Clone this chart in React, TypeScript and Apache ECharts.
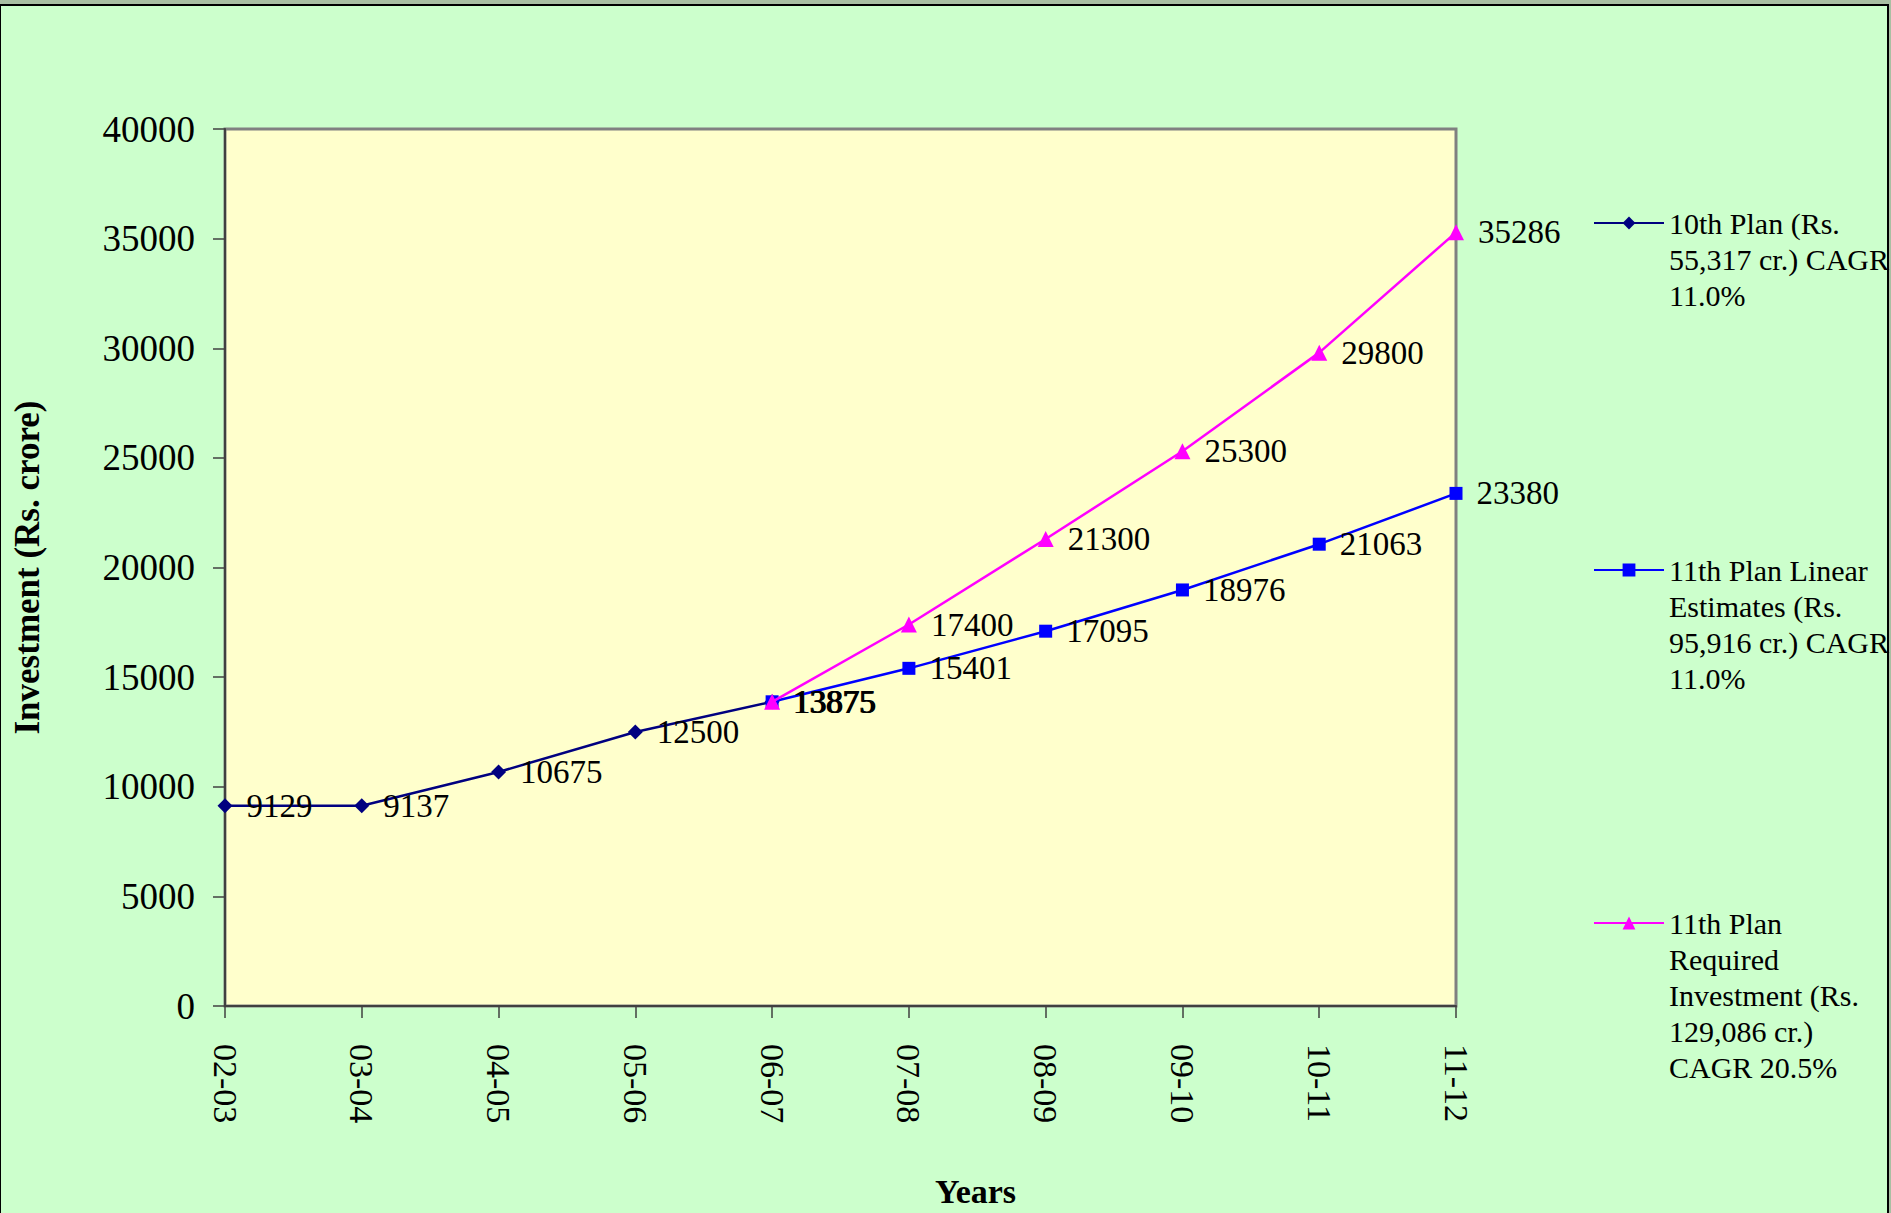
import React, { useEffect, useRef } from 'react';
import * as echarts from 'echarts';

const years = ['02-03', '03-04', '04-05', '05-06', '06-07', '07-08', '08-09', '09-10', '10-11', '11-12'];
const plan10 = [9129, 9137, 10675, 12500, 13875, null, null, null, null, null];
const plan11Linear = [null, null, null, null, 13875, 15401, 17095, 18976, 21063, 23380];
const plan11Required = [null, null, null, null, 13875, 17400, 21300, 25300, 29800, 35286];
const seriesNames = [
  '10th Plan (Rs. 55,317 cr.) CAGR 11.0%',
  '11th Plan Linear Estimates (Rs. 95,916 cr.) CAGR 11.0%',
  '11th Plan Required Investment (Rs. 129,086 cr.) CAGR 20.5%',
];
const legendLines = [
  ['10th Plan (Rs.', '55,317 cr.) CAGR', '11.0%'],
  ['11th Plan Linear', 'Estimates (Rs.', '95,916 cr.) CAGR', '11.0%'],
  ['11th Plan', 'Required', 'Investment (Rs.', '129,086 cr.)', 'CAGR 20.5%'],
];
const yMin = 0;
const yMax = 40000;
const yInterval = 5000;

const colors = ['#000080', '#0000FF', '#FF00FF'];
const symbols = ['diamond', 'rect', 'triangle'];
const symbolSizes = [15, 13, 16];
const legendIconY = [223, 570, 923];
const FONT = '"Liberation Serif", "Times New Roman", serif';
const LH = 36;

export default function App() {
  const ref = useRef<HTMLDivElement>(null);
  useEffect(() => {
    if (!ref.current) return;
    const chart = echarts.init(ref.current, undefined, { renderer: 'svg' });
    const data = [plan10, plan11Linear, plan11Required];
    const legends = legendLines.map((lines, i) => {
      const n = lines.length;
      const pad = new Array(n - 1).fill(' ').join('\n');
      return {
        data: [seriesNames[i]],
        left: 1593,
        top: legendIconY[i] - (2 * n - 1) * (LH / 2),
        padding: 0,
        itemWidth: 70,
        itemHeight: 16,
        formatter: () => pad + '\n' + lines.join('\n'),
        textStyle: {
          fontFamily: FONT,
          fontSize: 30,
          lineHeight: LH,
          color: '#000',
        },
      };
    });
    chart.setOption({
      animation: false,
      backgroundColor: 'transparent',
      graphic: [
        {
          type: 'rect',
          shape: { x: 0, y: 5, width: 1888, height: 1213 },
          style: { fill: '#CCFFCC', stroke: '#000', lineWidth: 2 },
          z: -10,
          silent: true,
        },
      ],
      grid: {
        left: 225,
        top: 129,
        width: 1231,
        height: 883,
        show: true,
        backgroundColor: '#FFFFCC',
        borderColor: '#808080',
        borderWidth: 3,
        containLabel: false,
      },
      legend: legends,
      xAxis: {
        type: 'category',
        data: years,
        boundaryGap: false,
        axisLine: { lineStyle: { color: '#404040', width: 2 } },
        axisTick: { show: true, length: 12, inside: false, lineStyle: { color: '#404040', width: 1.5 }, alignWithLabel: true },
        axisLabel: { rotate: -90, margin: 38, fontFamily: FONT, fontSize: 34, color: '#000', interval: 0 },
        name: 'Years',
        nameLocation: 'middle',
        nameGap: 168,
        nameTextStyle: { fontFamily: FONT, fontSize: 34, fontWeight: 'bold', color: '#000', padding: [0, 0, 0, 270] },
        splitLine: { show: false },
      },
      yAxis: {
        type: 'value',
        min: yMin,
        max: yMax,
        interval: yInterval,
        axisLine: { show: true, lineStyle: { color: '#404040', width: 2 } },
        axisTick: { show: true, length: 12, inside: false, lineStyle: { color: '#404040', width: 1.5 } },
        axisLabel: { margin: 30, fontFamily: FONT, fontSize: 37, color: '#000', formatter: (v: number) => String(v) },
        splitLine: { show: false },
        name: 'Investment (Rs. crore)',
        nameLocation: 'middle',
        nameRotate: 90,
        nameGap: 180,
        nameTextStyle: { fontFamily: FONT, fontSize: 35, fontWeight: 'bold', color: '#000' },
      },
      series: data.map((d, i) => ({
        name: seriesNames[i],
        type: 'line',
        data: d,
        symbol: symbols[i],
        symbolSize: symbolSizes[i],
        showAllSymbol: true,
        connectNulls: false,
        itemStyle: { color: colors[i] },
        lineStyle: { color: colors[i], width: 2.5 },
        z: 2 + i,
        label: {
          show: true,
          position: 'right',
          distance: 14,
          fontFamily: FONT,
          fontSize: 33,
          color: '#000',
        },
      })),
    });
    return () => chart.dispose();
  }, []);
  return (
    <div style={{ position: 'fixed', left: 0, top: 0, width: 1891, height: 1213, background: '#A9BFA3', overflow: 'hidden' }}>
      <div ref={ref} style={{ width: 1891, height: 1213 }} />
    </div>
  );
}
